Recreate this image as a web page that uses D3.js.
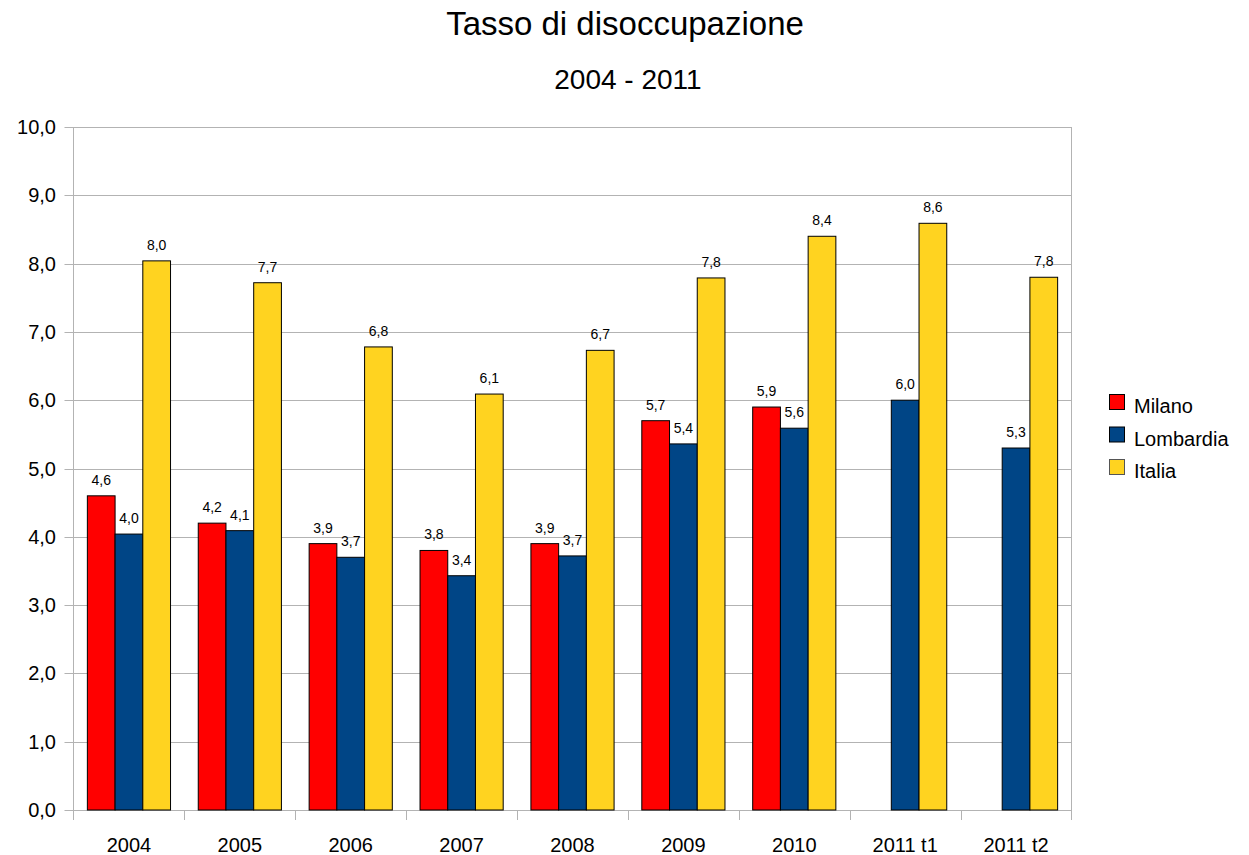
<!DOCTYPE html>
<html>
<head>
<meta charset="utf-8">
<script src="https://cdn.jsdelivr.net/npm/d3@7"></script>
<style>
  body { margin: 0; background: #fff; }
  text { font-family: "Liberation Sans", Arial, sans-serif; fill: #000; }
</style>
</head>
<body>
<svg id="chart" width="1249" height="855"></svg>
<script>
// data
var categories = ["2004", "2005", "2006", "2007", "2008", "2009", "2010", "2011 t1", "2011 t2"];
var seriesNames = ["Milano", "Lombardia", "Italia"];
var milano    = [4.60, 4.20, 3.90, 3.80, 3.90, 5.70, 5.90, null, null];
var lombardia = [4.04, 4.09, 3.70, 3.43, 3.72, 5.36, 5.59, 6.00, 5.30];
var italia    = [8.04, 7.72, 6.78, 6.09, 6.73, 7.79, 8.40, 8.59, 7.80];
var yTicks = [0, 1, 2, 3, 4, 5, 6, 7, 8, 9, 10];

var colors = ["#ff0000", "#004586", "#ffd320"];
var series = [milano, lombardia, italia];

var svg = d3.select("#chart");
var margin = {top: 127, left: 73.5, right: 1071.5, bottom: 810};

var fmt = function(v) { return v.toFixed(1).replace(".", ","); };

// title
svg.append("text")
   .attr("x", 625).attr("y", 35)
   .attr("text-anchor", "middle")
   .style("font-size", "33px")
   .text("Tasso di disoccupazione");

svg.append("text")
   .attr("x", 628).attr("y", 89)
   .attr("text-anchor", "middle")
   .style("font-size", "28px")
   .text("2004 - 2011");

var x0 = d3.scaleBand()
           .domain(categories)
           .range([margin.left, margin.right])
           .paddingInner(0.25)
           .paddingOuter(0.125);

var x1 = d3.scaleBand()
           .domain(seriesNames)
           .range([0, x0.bandwidth()]);

var y = d3.scaleLinear()
          .domain([0, 10])
          .range([margin.bottom, margin.top]);

// gridlines
svg.append("g")
   .selectAll("line")
   .data(yTicks)
   .join("line")
   .attr("x1", margin.left - 9)
   .attr("x2", margin.right)
   .attr("y1", function(d) { return Math.round(y(d)) + 0.5; })
   .attr("y2", function(d) { return Math.round(y(d)) + 0.5; })
   .attr("stroke", "#b3b3b3")
   .attr("stroke-width", 1);

// left and right frame lines
svg.append("line")
   .attr("x1", margin.left).attr("x2", margin.left)
   .attr("y1", margin.top).attr("y2", margin.bottom + 10)
   .attr("stroke", "#b3b3b3");
svg.append("line")
   .attr("x1", margin.right).attr("x2", margin.right)
   .attr("y1", margin.top).attr("y2", margin.bottom + 10)
   .attr("stroke", "#b3b3b3");

// x tick marks at category boundaries
var step = x0.step();
svg.append("g")
   .selectAll("line")
   .data(categories.slice(1))
   .join("line")
   .attr("x1", function(d) { return Math.round(x0(d) - step * 0.125) + 0.5; })
   .attr("x2", function(d) { return Math.round(x0(d) - step * 0.125) + 0.5; })
   .attr("y1", margin.bottom)
   .attr("y2", margin.bottom + 10)
   .attr("stroke", "#b3b3b3");

// y tick labels
svg.append("g")
   .selectAll("text")
   .data(yTicks)
   .join("text")
   .attr("x", 56)
   .attr("y", function(d) { return y(d) + 7; })
   .attr("text-anchor", "end")
   .style("font-size", "20px")
   .text(fmt);

// x labels
svg.append("g")
   .selectAll("text")
   .data(categories)
   .join("text")
   .attr("x", function(d) { return x0(d) + x0.bandwidth() / 2; })
   .attr("y", 852)
   .attr("text-anchor", "middle")
   .style("font-size", "20px")
   .text(function(d) { return d; });

// bars
var barData = [];
categories.forEach(function(c, i) {
  seriesNames.forEach(function(s, j) {
    if (series[j][i] != null) barData.push({cat: c, name: s, value: series[j][i], color: colors[j]});
  });
});

var groups = svg.append("g");
groups.selectAll("rect")
   .data(barData)
   .join("rect")
   .attr("x", function(d) { return x0(d.cat) + x1(d.name); })
   .attr("y", function(d) { return y(d.value); })
   .attr("width", x1.bandwidth())
   .attr("height", function(d) { return y(0) - y(d.value); })
   .attr("fill", function(d) { return d.color; })
   .attr("stroke", "#000")
   .attr("stroke-width", 1);

groups.selectAll("text")
   .data(barData)
   .join("text")
   .attr("x", function(d) { return x0(d.cat) + x1(d.name) + x1.bandwidth() / 2; })
   .attr("y", function(d) { return y(d.value) - 11; })
   .attr("text-anchor", "middle")
   .style("font-size", "14px")
   .text(function(d) { return fmt(d.value); });

// legend
var legend = svg.append("g")
   .selectAll("g")
   .data(seriesNames)
   .join("g")
   .attr("transform", function(d, i) { return "translate(1109," + (394 + i * 32.5) + ")"; });

legend.append("rect")
   .attr("x", 0.5).attr("y", 0.5)
   .attr("width", 15).attr("height", 15)
   .attr("fill", function(d, i) { return colors[i]; })
   .attr("stroke", function(d, i) { return i == 2 ? "#555" : "#000"; });

legend.append("text")
   .attr("x", 25)
   .attr("y", 19)
   .style("font-size", "20px")
   .text(function(d) { return d; });
</script>
</body>
</html>
